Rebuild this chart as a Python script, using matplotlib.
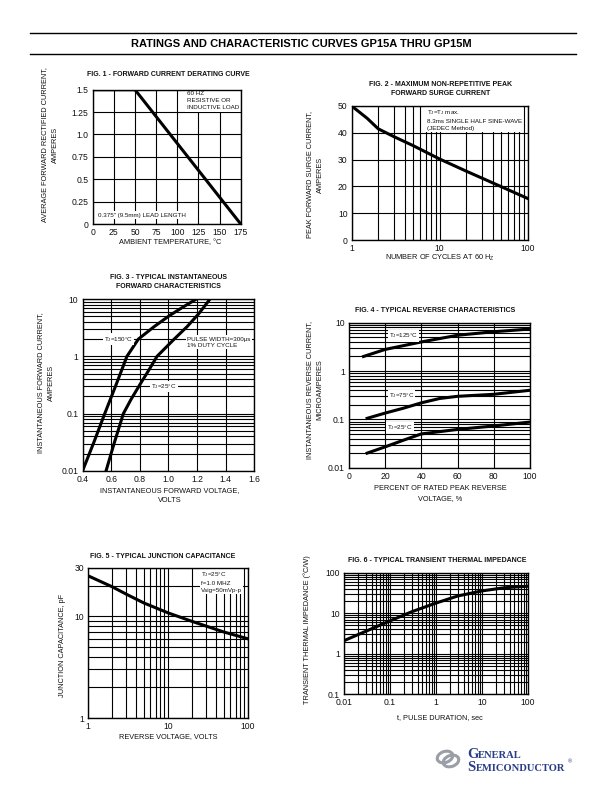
import numpy as np
import matplotlib
matplotlib.use("Agg")
import matplotlib.pyplot as plt
import matplotlib.patches as mpatches
from matplotlib.ticker import NullFormatter, FixedLocator

plt.rcParams["font.family"] = ["Liberation Sans", "DejaVu Sans"]
plt.rcParams["mathtext.default"] = "regular"

# Data

# Fig 1 - derating
temp_c = [0, 50, 175]
avg_current = [1.5, 1.5, 0.0]

# Fig 2 - surge current
cycles = [1, 1.5, 2, 3, 5, 10, 20, 50, 100]
surge_a = [50, 45.4, 41.5, 38.6, 35.2, 30.2, 25.7, 19.9, 15.5]

# Fig 3 - forward characteristics
vf_150 = [0.40, 0.48, 0.555, 0.63, 0.71, 0.79, 0.90, 1.01, 1.10, 1.195]
if_150 = [0.01, 0.032, 0.1, 0.3, 1.0, 2.0, 3.3, 5.2, 7.2, 10]
vf_25 = [0.564, 0.62, 0.685, 0.74, 0.80, 0.86, 0.92, 1.04, 1.13, 1.21, 1.29]
if_25 = [0.01, 0.03, 0.1, 0.18, 0.32, 0.56, 1.0, 2.0, 3.3, 5.5, 10]

# Fig 4 - reverse characteristics
pct_125 = [8, 20, 40, 60, 80, 100]
ir_125 = [2.0, 2.8, 4.0, 5.5, 6.5, 7.4]
pct_75 = [10, 20, 30, 40, 50, 60, 80, 100]
ir_75 = [0.105, 0.135, 0.17, 0.22, 0.27, 0.30, 0.33, 0.40]
pct_25 = [10, 20, 30, 40, 60, 80, 100]
ir_25 = [0.02, 0.027, 0.037, 0.05, 0.062, 0.073, 0.088]

# Fig 5 - junction capacitance
vr = [1, 2, 3, 5, 10, 20, 50, 100]
cj = [25, 19.5, 16.5, 13.5, 10.8, 8.9, 7.0, 6.0]

# Fig 6 - transient thermal impedance
t_pulse = [0.01, 0.03, 0.1, 0.3, 1, 3, 10, 30, 100]
z_th = [2.1, 3.6, 6.5, 11, 18, 27, 36, 43, 47]


W, H = 612, 792
fig = plt.figure(figsize=(W / 100, H / 100), dpi=100)
fig.patch.set_facecolor("white")

TXT = "#111111"
CURVE_LW = 2.2
GRID_LW = 0.8
TICK_FS = 6.2
LABEL_FS = 5.3
TITLE_FS = 5.0
NOTE_FS = 4.5
BOX = dict(facecolor="white", edgecolor="none", pad=0.8)


def add_ax(x0, y0, x1, y1):
    # page pixel box -> figure axes
    return fig.add_axes([x0 / W, 1 - y1 / H, (x1 - x0) / W, (y1 - y0) / H])


def ptext(x, y, s, **kw):
    kw.setdefault("fontsize", LABEL_FS)
    kw.setdefault("color", TXT)
    kw.setdefault("ha", "center")
    kw.setdefault("va", "center")
    fig.text(x / W, 1 - y / H, s, **kw)


def style(ax):
    for sp in ax.spines.values():
        sp.set_linewidth(1.0)
        sp.set_color("black")
        sp.set_zorder(5)
    ax.tick_params(which="both", length=0, pad=3, labelsize=TICK_FS,
                   colors=TXT)
    ax.set_axisbelow(True)


def log_minor(axis, lo, hi):
    # 2..9 lines in every decade between 10**lo and 10**hi
    locs = [m * 10.0 ** e for e in range(lo, hi) for m in range(2, 10)]
    axis.set_minor_locator(FixedLocator(locs))
    axis.set_minor_formatter(NullFormatter())


def note(ax, x, y, s, **kw):
    kw.setdefault("ha", "center")
    kw.setdefault("va", "center")
    ax.text(x, y, s, fontsize=NOTE_FS, bbox=BOX, color=TXT, zorder=4, **kw)


# header
fig.add_artist(plt.Line2D([30 / W, 576 / W], [1 - 33 / H] * 2,
                          color="black", lw=1.0))
fig.add_artist(plt.Line2D([30 / W, 576 / W], [1 - 53.5 / H] * 2,
                          color="black", lw=1.0))
ptext(301, 44, "RATINGS AND CHARACTERISTIC CURVES GP15A THRU GP15M",
      fontsize=8, fontweight="bold", color="black")


# Fig 1
ax1 = add_ax(92.7, 89.7, 240.7, 224)
ax1.plot(temp_c, avg_current, color="black", lw=CURVE_LW,
         solid_capstyle="butt", zorder=3)
ax1.set_xlim(0, 175)
ax1.set_ylim(0, 1.5)
ax1.set_xticks(np.arange(0, 176, 25))
ax1.set_yticks([0, 0.25, 0.5, 0.75, 1.0, 1.25, 1.5])
ax1.set_yticklabels(["0", "0.25", "0.5", "0.75", "1.0", "1.25", "1.5"])
ax1.grid(True, color="black", lw=GRID_LW)
style(ax1)
note(ax1, 111, 1.48, "60 HZ\nRESISTIVE OR\nINDUCTIVE LOAD", va="top",
     ha="left", linespacing=1.5)
note(ax1, 6, 0.1, "0.375\" (9.5mm) LEAD LENGTH", ha="left")
ptext(168, 75, "FIG. 1 - FORWARD CURRENT DERATING CURVE",
      fontsize=TITLE_FS, fontweight="bold")
ptext(170, 243, "AMBIENT TEMPERATURE, °C")
ptext(50, 145, "AVERAGE FORWARD RECTIFIED CURRENT,\nAMPERES", rotation=90,
      linespacing=1.6)


# Fig 2
ax2 = add_ax(351.7, 106, 527.7, 240)
ax2.plot(cycles, surge_a, color="black", lw=CURVE_LW, zorder=3)
ax2.set_xscale("log")
ax2.set_xlim(1, 100)
ax2.set_ylim(0, 50)
ax2.set_xticks([1, 10, 100])
ax2.set_xticklabels(["1", "10", "100"])
log_minor(ax2.xaxis, 0, 2)
ax2.set_yticks(np.arange(0, 51, 10))
ax2.grid(True, which="both", axis="x", color="black", lw=GRID_LW)
ax2.grid(True, which="major", axis="y", color="black", lw=GRID_LW)
style(ax2)
note(ax2, 7.1, 49.2,
     "T$_J$=T$_J$ max.\n8.3ms SINGLE HALF SINE-WAVE\n(JEDEC Method)",
     va="top", ha="left", linespacing=1.5)
ptext(441, 85, "FIG. 2 - MAXIMUM NON-REPETITIVE PEAK",
      fontsize=TITLE_FS, fontweight="bold")
ptext(441, 93.5, "FORWARD SURGE CURRENT", fontsize=TITLE_FS,
      fontweight="bold")
ptext(440, 258, "NUMBER OF CYCLES AT 60 H$_Z$")
ptext(315, 175, "PEAK FORWARD SURGE CURRENT,\nAMPERES", rotation=90,
      linespacing=1.6)


# Fig 3
ax3 = add_ax(82.5, 299, 254.5, 471)
ax3.plot(vf_150, if_150, color="black", lw=CURVE_LW, zorder=3)
ax3.plot(vf_25, if_25, color="black", lw=CURVE_LW, zorder=3)
ax3.set_yscale("log")
ax3.set_xlim(0.4, 1.6)
ax3.set_ylim(0.01, 10)
ax3.set_xticks(np.arange(0.4, 1.61, 0.2))
ax3.set_xticklabels(["0.4", "0.6", "0.8", "1.0", "1.2", "1.4", "1.6"])
ax3.set_yticks([0.01, 0.1, 1, 10])
ax3.set_yticklabels(["0.01", "0.1", "1", "10"])
log_minor(ax3.yaxis, -2, 1)
ax3.grid(True, which="major", axis="x", color="black", lw=GRID_LW)
ax3.grid(True, which="both", axis="y", color="black", lw=GRID_LW)
style(ax3)
note(ax3, 0.65, 2.0, "T$_J$=150°C")
note(ax3, 1.13, 2.0, "PULSE WIDTH=300μs", ha="left")
note(ax3, 1.13, 1.55, "1% DUTY CYCLE", ha="left")
note(ax3, 0.97, 0.3, "T$_J$=25°C")
ptext(168, 277.5, "FIG. 3 - TYPICAL INSTANTANEOUS", fontsize=TITLE_FS,
      fontweight="bold")
ptext(168, 286, "FORWARD CHARACTERISTICS", fontsize=TITLE_FS,
      fontweight="bold")
ptext(170, 495.5, "INSTANTANEOUS FORWARD VOLTAGE,\nVOLTS", linespacing=1.6)
ptext(46, 383, "INSTANTANEOUS FORWARD CURRENT,\nAMPERES", rotation=90,
      linespacing=1.6)


# Fig 4
ax4 = add_ax(349, 322.7, 530, 467.7)
ax4.plot(pct_125, ir_125, color="black", lw=CURVE_LW, zorder=3)
ax4.plot(pct_75, ir_75, color="black", lw=CURVE_LW, zorder=3)
ax4.plot(pct_25, ir_25, color="black", lw=CURVE_LW, zorder=3)
ax4.set_yscale("log")
ax4.set_xlim(0, 100)
ax4.set_ylim(0.01, 10)
ax4.set_xticks(np.arange(0, 101, 20))
ax4.set_yticks([0.01, 0.1, 1, 10])
ax4.set_yticklabels(["0.01", "0.1", "1", "10"])
log_minor(ax4.yaxis, -2, 1)
ax4.grid(True, which="major", axis="x", color="black", lw=GRID_LW)
ax4.grid(True, which="both", axis="y", color="black", lw=GRID_LW)
style(ax4)
note(ax4, 30, 5.3, "T$_J$=125°C")
note(ax4, 29, 0.305, "T$_J$=75°C")
note(ax4, 28, 0.069, "T$_J$=25°C")
ptext(435, 310, "FIG. 4 - TYPICAL REVERSE CHARACTERISTICS",
      fontsize=TITLE_FS, fontweight="bold")
ptext(440, 493.5, "PERCENT OF RATED PEAK REVERSE\nVOLTAGE, %",
      linespacing=1.6)
ptext(315, 390, "INSTANTANEOUS REVERSE CURRENT,\nMICROAMPERES", rotation=90,
      linespacing=1.6)


# Fig 5
ax5 = add_ax(88, 567.7, 248, 718)
ax5.plot(vr, cj, color="black", lw=CURVE_LW, zorder=3)
ax5.set_xscale("log")
ax5.set_yscale("log")
ax5.set_xlim(1, 100)
ax5.set_ylim(1, 30)
ax5.set_xticks([1, 10, 100])
ax5.set_xticklabels(["1", "10", "100"])
ax5.set_yticks([1, 10, 30])
ax5.set_yticklabels(["1", "10", "30"])
log_minor(ax5.xaxis, 0, 2)
ax5.yaxis.set_minor_locator(FixedLocator([2, 3, 4, 5, 6, 7, 8, 9, 20]))
ax5.yaxis.set_minor_formatter(NullFormatter())
ax5.grid(True, which="both", color="black", lw=GRID_LW)
style(ax5)
note(ax5, 26, 28.5, "T$_J$=25°C\nf=1.0 MHZ\nVsig=50mVp-p", ha="left",
     va="top", linespacing=1.5)
ptext(163, 556, "FIG. 5 - TYPICAL JUNCTION CAPACITANCE", fontsize=TITLE_FS,
      fontweight="bold")
ptext(168, 737, "REVERSE VOLTAGE, VOLTS")
ptext(63, 645, "JUNCTION CAPACITANCE, pF", rotation=90)


# Fig 6
ax6 = add_ax(344, 573, 528, 694)
ax6.plot(t_pulse, z_th, color="black", lw=CURVE_LW, zorder=3)
ax6.set_xscale("log")
ax6.set_yscale("log")
ax6.set_xlim(0.01, 100)
ax6.set_ylim(0.1, 100)
ax6.set_xticks([0.01, 0.1, 1, 10, 100])
ax6.set_xticklabels(["0.01", "0.1", "1", "10", "100"])
ax6.set_yticks([0.1, 1, 10, 100])
ax6.set_yticklabels(["0.1", "1", "10", "100"])
log_minor(ax6.xaxis, -2, 2)
log_minor(ax6.yaxis, -1, 2)
ax6.grid(True, which="both", color="black", lw=GRID_LW)
style(ax6)
ptext(437, 560, "FIG. 6 - TYPICAL TRANSIENT THERMAL IMPEDANCE",
      fontsize=TITLE_FS, fontweight="bold")
ptext(440, 718, "t, PULSE DURATION, sec")
ptext(307, 630, "TRANSIENT THERMAL IMPEDANCE (°C/W)", rotation=90)


# logo
lax = fig.add_axes([434 / W, 1 - 772 / H, 30 / W, 26 / H])
lax.set_xlim(0, 30)
lax.set_ylim(0, 26)
lax.axis("off")
lax.add_patch(mpatches.Ellipse((11, 15), 16, 11, angle=20, fill=False,
                               edgecolor="#9a9ea6", lw=2.2))
lax.add_patch(mpatches.Ellipse((17, 11), 16, 11, angle=20, fill=False,
                               edgecolor="#9a9ea6", lw=2.2))
BLUE = "#2a3d86"
serif = ["Liberation Serif", "DejaVu Serif"]
ptext(467, 757.7, "G", fontsize=10.5, fontweight="bold", color=BLUE,
      ha="left", va="baseline", family=serif)
ptext(478, 757.7, "ENERAL", fontsize=7.6, fontweight="bold", color=BLUE,
      ha="left", va="baseline", family=serif)
ptext(467, 771, "S", fontsize=10.5, fontweight="bold", color=BLUE,
      ha="left", va="baseline", family=serif)
ptext(475.5, 771, "EMICONDUCTOR", fontsize=7.6, fontweight="bold",
      color=BLUE, ha="left", va="baseline", family=serif)
ptext(568, 763, "®", fontsize=4, color=BLUE, ha="left", va="baseline")

fig.savefig("out.png", dpi=100, facecolor="white")
